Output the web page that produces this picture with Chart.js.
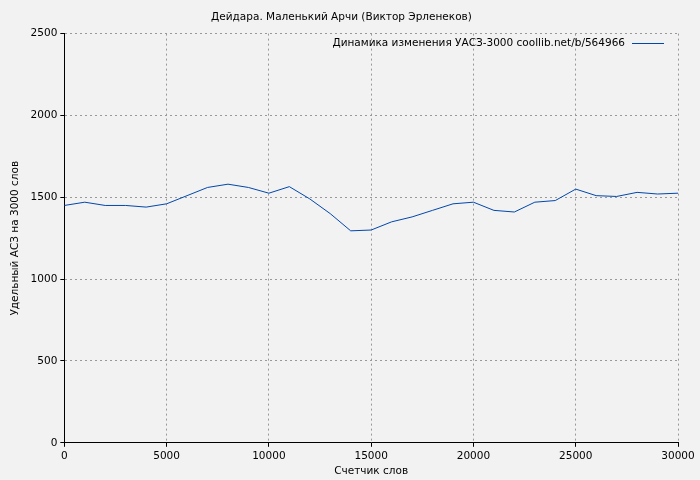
<!DOCTYPE html>
<html><head><meta charset="utf-8">
<script src="https://cdn.jsdelivr.net/npm/chart.js@4"></script>
<style>body{margin:0;background:#f2f2f2}#w{width:700px;height:480px}</style>
</head><body><div id="w"><canvas id="c"></canvas></div>
<script>
const wordCounts=[0,1000,2000,3000,4000,5000,6000,7000,8000,9000,10000,11000,12000,13000,14000,15000,16000,17000,18000,19000,20000,21000,22000,23000,24000,25000,26000,27000,28000,29000,30000];
const uaszValues=[1450,1470,1450,1450,1440,1460,1510,1560,1580,1560,1525,1565,1490,1400,1295,1300,1350,1380,1420,1460,1470,1420,1410,1470,1480,1550,1510,1505,1530,1520,1525];
const seriesLabel='Динамика изменения УАСЗ-3000 coollib.net/b/564966';
const titleText='Дейдара. Маленький Арчи (Виктор Эрленеков)';
const font="'DejaVu Sans'";
const legendPlugin={id:'lg',afterDraw(ch){const c=ch.ctx,a=ch.chartArea;c.save();c.font="10.5px "+font;c.fillStyle='#000';c.textAlign='right';c.textBaseline='middle';c.fillText(seriesLabel,a.right-53,43);c.strokeStyle='#0047ab';c.lineWidth=1;c.beginPath();c.moveTo(a.right-46,43.5);c.lineTo(a.right-14,43.5);c.stroke();c.restore();}};
const bg={id:'bg',beforeDraw(ch){ch.ctx.fillStyle='#f2f2f2';ch.ctx.fillRect(0,0,ch.width,ch.height);}};
const tk={color:'#000',font:{family:font,size:10.5},maxRotation:0,callback:v=>String(v)};
new Chart(document.getElementById('c'),{type:'line',
data:{datasets:[{label:seriesLabel,data:wordCounts.map((x,i)=>({x,y:uaszValues[i]})),borderColor:'#0047ab',borderWidth:1,pointRadius:0,tension:0}]},
options:{responsive:true,maintainAspectRatio:false,animation:false,
layout:{padding:{left:5,right:22,top:1,bottom:0}},
plugins:{legend:{display:false},tooltip:{enabled:false},title:{display:true,text:titleText,color:'#000',font:{family:font,size:10.5,weight:'normal'},padding:{top:10,bottom:10}}},
scales:{x:{type:'linear',min:0,max:30000,ticks:{...tk,stepSize:5000},border:{color:'#000',width:1,dash:[2,3]},grid:{color:'#999',tickColor:'#000',tickLength:4},title:{display:true,text:'Счетчик слов',color:'#000',font:{family:font,size:10.5},padding:{top:0,bottom:2}}},
y:{min:0,max:2500,ticks:{...tk,stepSize:500},border:{color:'#000',width:1,dash:[2,3]},grid:{color:'#999',tickColor:'#000',tickLength:4},title:{display:true,text:'Удельный АСЗ на 3000 слов',color:'#000',font:{family:font,size:10.5},padding:{bottom:6}}}}},
plugins:[bg,legendPlugin]});
</script></body></html>
